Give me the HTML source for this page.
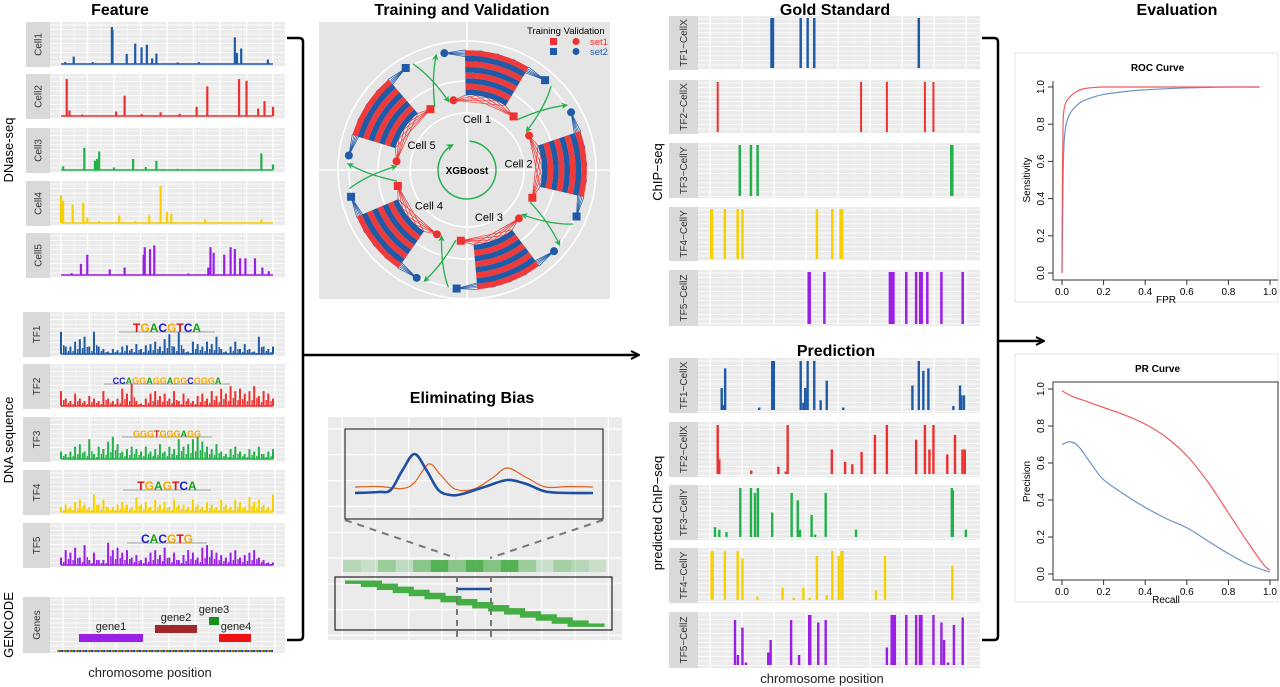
<!DOCTYPE html>
<html><head><meta charset="utf-8"><style>
html,body{margin:0;padding:0;background:#fff;}
svg{display:block;font-family:"Liberation Sans",sans-serif;}
</style></head><body>
<svg id="fig" width="1280" height="687" viewBox="0 0 1280 687" xmlns="http://www.w3.org/2000/svg">
<defs>
<marker id="ah" viewBox="0 0 10 10" refX="8" refY="5" markerWidth="5" markerHeight="5" orient="auto"><path d="M0,0 L10,5 L0,10 L3,5 Z" fill="#22b04b"/></marker>
<marker id="bah" viewBox="0 0 10 10" refX="8" refY="5" markerWidth="4" markerHeight="4" orient="auto"><path d="M1,1 L9,5 L1,9" fill="none" stroke="#000" stroke-width="2"/></marker>
</defs>
</svg>
<script>
// ---------- DATA ----------
const dnaseCell1 = [[.06,.2],[.24,1],[.243,.92],[.31,.27],[.35,.55],[.38,.45],[.405,.52],[.43,.15],[.45,.28],[.82,.72],[.83,.3],[.85,.42],[.976,.12],[.02,.05],[.15,.05],[.55,.04],[.65,.05]];
const dnaseCell2 = [[.027,1],[.04,.15],[.26,.12],[.30,.55],[.47,.1],[.64,.25],[.69,.8],[.84,1],[.875,.95],[.93,.2],[.96,.4],[1,.25],[.1,.04],[.38,.05],[.56,.06]];
const dnaseCell3 = [[.01,.1],[.11,.6],[.16,.25],[.17,.3],[.18,.5],[.25,.07],[.34,.3],[.4,.08],[.45,.25],[.945,.45],[1,.15],[.55,.03]];
const dnaseCell4 = [[0,.75],[.01,.6],[.055,.5],[.105,.55],[.124,.15],[.18,.05],[.275,.2],[.416,.2],[.47,1],[.5,.3],[.52,.25],[.68,.1],[.945,.1],[.35,.05]];
const dnaseCell5 = [[.094,.3],[.124,.55],[.23,.15],[.3,.2],[.39,.55],[.395,.75],[.42,.7],[.44,.8],[.695,.2],[.705,.75],[.72,.6],[.77,.55],[.8,.75],[.82,.7],[.845,.45],[.87,.45],[.915,.45],[.95,.2],[.98,.1],[.05,.05],[.6,.04]];

const tf1Vals = [.9,.3,.3,.5,.6,.7,.3,.9,.3,.2,.1,.2,.15,.3,.35,.2,.4,.2,.35,.4,.5,.3,.6,.8,.3,.9,.2,.1,.5,.4,.3,.5,.4,.7,.2,.1,.3,.5,.2,.4,.2,.1,.7,.3,.2,.3];
const tf2Vals = [.6,.3,.2,.5,.3,.2,.4,.3,.2,.6,.3,.2,.3,.7,.5,.9,.2,.1,.3,.5,.6,.4,.5,.3,.6,.2,.5,.3,.2,.4,.5,.3,.6,.4,.7,.5,.8,.6,.7,.5,.6,.8,.4,.6,.5,.3];
const tf3Vals = [.3,.2,.3,.5,.6,.3,.8,.2,.5,.4,.7,.9,.6,.3,.4,.5,.4,.3,.5,.3,.4,.6,.3,.5,.4,.8,.5,.6,.8,.9,.7,.5,.4,.6,.3,.2,.4,.5,.3,.2,.4,.3,.5,.2,.3,.4];
const tf4Vals = [.2,.3,.2,.4,.5,.3,.2,.7,.3,.5,.2,.2,.3,.4,.3,.2,.6,.3,.4,.2,.5,.3,.4,.2,.5,.3,.3,.2,.5,.3,.2,.4,.3,.2,.5,.3,.2,.5,.4,.2,.6,.4,.5,.3,.2,.7];
const tf5Vals = [.3,.6,.5,.7,.3,.8,.2,.5,.2,.2,.9,.6,.7,.5,.6,.3,.4,.2,.3,.5,.6,.4,.7,.3,.5,.2,.4,.6,.5,.3,.7,.8,.6,.5,.4,.3,.5,.6,.3,.4,.5,.6,.3,.2,.1,.1];

const goldTF1 = [[.249,4],[.356,2.5],[.382,2.5],[.407,2.5],[.80,2.5]];
const goldTF2 = [[.044,2],[.583,2],[.68,2],[.823,2],[.855,2]];
const goldTF3 = [[.127,2.5],[.169,2.5],[.194,2.5],[.924,3.5]];
const goldTF4 = [[.021,3.5],[.071,2.5],[.119,2.5],[.137,2.5],[.417,2.5],[.475,2.5],[.509,4]];
const goldTF5 = [[.388,3.5],[.445,2.5],[.698,6],[.753,2.5],[.79,2.5],[.808,4],[.832,2.5],[.885,2.5],[.965,2.5]];

const predTF1 = [[.059,.45],[.065,.1],[.072,.85],[.2,.05],[.249,1],[.255,1],[.373,.45],[.356,1],[.366,.15],[.382,1],[.407,1],[.431,.2],[.454,.6],[.516,.05],[.776,.5],[.80,1],[.817,.8],[.836,.85],[.93,.08],[.955,.5],[.96,.3],[.97,.3]];
const predTF2 = [[.044,1],[.05,.3],[.17,.07],[.272,.15],[.3,.05],[.307,1],[.473,.5],[.523,.25],[.55,.2],[.585,.45],[.635,.8],[.68,1],[.79,.7],[.823,1],[.84,.5],[.855,1],[.907,.4],[.936,.8],[.964,.5],[.973,.5]];
const predTF3 = [[.034,.2],[.05,.15],[.077,.1],[.129,1],[.169,1],[.184,.9],[.195,1],[.249,.5],[.322,.9],[.345,.75],[.353,.15],[.397,.45],[.41,.05],[.45,.9],[.564,.15],[.924,1],[.928,.95],[.977,.15]];
const predTF4 = [[.021,1],[.025,1],[.071,1],[.119,1],[.137,.85],[.193,.07],[.288,.25],[.33,.05],[.366,.25],[.39,.05],[.417,.9],[.454,.1],[.475,1],[.499,.9],[.509,1],[.513,1],[.639,.2],[.673,.9],[.926,.7]];
const predTF5 = [[.109,.9],[.12,.2],[.137,.75],[.15,.05],[.234,.25],[.243,.5],[.32,.9],[.35,.2],[.388,1],[.392,1],[.422,.85],[.45,.9],[.68,.35],[.698,1],[.703,1],[.71,1],[.753,1],[.79,1],[.804,1],[.81,1],[.855,1],[.885,.85],[.895,.5],[.91,.05],[.932,.8],[.965,.95]];

const rocRedFpr = [0,0.002,0.005,0.01,0.02,0.04,0.07,0.1,0.15,0.2,0.3,0.5,0.95];
const rocRedTpr = [0,0.5,0.8,0.88,0.92,0.95,0.975,0.99,0.997,1,1,1,1];
const rocBlueFpr = [0,0.005,0.01,0.02,0.04,0.07,0.1,0.15,0.2,0.3,0.4,0.6,0.8,0.95];
const rocBlueTpr = [0,0.5,0.7,0.8,0.86,0.9,0.925,0.945,0.96,0.975,0.985,0.995,1,1];
const prRedRecall = [0,0.05,0.1,0.2,0.3,0.4,0.5,0.6,0.7,0.8,0.9,0.97,1];
const prRedPrec = [0.99,0.96,0.94,0.9,0.86,0.81,0.74,0.64,0.5,0.33,0.16,0.05,0.02];
const prBlueRecall = [0,0.02,0.04,0.07,0.1,0.15,0.2,0.3,0.4,0.5,0.6,0.7,0.8,0.9,1];
const prBluePrec = [0.7,0.71,0.715,0.7,0.66,0.58,0.51,0.43,0.36,0.3,0.25,0.18,0.11,0.05,0.01];
const axisTicks = ['0.0','0.2','0.4','0.6','0.8','1.0'];

const biasX = [0,.1,.15,.2,.25,.3,.35,.4,.45,.55,.64,.72,.8,.9,1];
const biasCorrected = [.14,.16,.2,.6,.92,.6,.2,.1,.12,.27,.4,.32,.17,.14,.14];
const biasRawX = [0,.1,.2,.25,.31,.36,.42,.5,.58,.64,.72,.8,.9,1];
const biasRaw = [.26,.27,.23,.35,.72,.5,.22,.22,.45,.64,.45,.26,.27,.26];
const heatAlpha = [.3,.2,.45,.25,.55,.85,.55,.85,.6,.85,.45,.2,.4,.3,.2];

const cellNames = ['Cell 1','Cell 2','Cell 3','Cell 4','Cell 5'];
const cellAngles = [-75,-3,69,141,213];

// ---------- HELPERS ----------
const NS='http://www.w3.org/2000/svg';
const svg=document.getElementById('fig');
function el(tag, attrs, name, parent){
  const e=document.createElementNS(NS,tag);
  for(const k in attrs) e.setAttribute(k,attrs[k]);
  
  
  (parent||svg).appendChild(e); return e;
}
function txt(x,y,s,attrs,name){
  const t=el('text',Object.assign({x:x,y:y,'font-size':11,fill:'#000'},attrs||{}),name);
  t.textContent=s; return t;
}
function panel(x,y,w,h,sw,label,name,vStep,vOff){
  el('rect',{x:x,y:y,width:sw,height:h,fill:'#d9d9d9'},name+'-strip');
  txt(x+sw/2+3.5,y+h/2,label,{'font-size':10,'text-anchor':'middle',fill:'#333',transform:`rotate(-90 ${x+sw/2+3.5} ${y+h/2})`},name+'-label');
  el('rect',{x:x+sw,y:y,width:w-sw,height:h,fill:'#ebebeb'},name+'-bg');
  for(let gy=y+3; gy<y+h; gy+=4.6) el('line',{x1:x+sw,x2:x+w,y1:gy,y2:gy,stroke:'#fff','stroke-width':0.7},name+'-hgrid');
  for(let gx=x+sw+vOff; gx<x+w; gx+=vStep){
    el('line',{x1:gx,x2:gx,y1:y,y2:y+h,stroke:'#fff','stroke-width':1.3},name+'-vgrid');
    if(gx+vStep/2<x+w) el('line',{x1:gx+vStep/2,x2:gx+vStep/2,y1:y,y2:y+h,stroke:'#f7f7f7','stroke-width':0.6},name+'-vgrid-minor');
  }
}
function lin(d0,d1,r0,r1){return v=>r0+(v-d0)/(d1-d0)*(r1-r0);}

// ---------- TITLES ----------
const T={'font-size':16,'font-weight':'bold','text-anchor':'middle'};
txt(120,15,'Feature',T,'feature-title');
txt(462,15,'Training and Validation',T,'training-validation-title');
txt(835,15,'Gold Standard',T,'gold-standard-title');
txt(1177,15,'Evaluation',T,'evaluation-title');
txt(836,356,'Prediction',T,'prediction-title');
txt(472,403,'Eliminating Bias',T,'eliminating-bias-title');

// ---------- FEATURE: DNASE ----------
const dnaseSets=[dnaseCell1,dnaseCell2,dnaseCell3,dnaseCell4,dnaseCell5];
const dnaseCols=['#1f5aa6','#ee3030','#22b04b','#f7d000','#9b1ee6'];
const dnaseY=[22,74,128,181,233];
dnaseSets.forEach((set,i)=>{
  const y0=dnaseY[i], h=45;
  panel(26,y0,259,h,24,'Cell'+(i+1),'dnase-cell'+(i+1),26.5,11);
  const xs=lin(0,1,61,273), base=y0+h-3, ys=lin(0,1,0,h-8);
  el('line',{x1:61,x2:273,y1:base,y2:base,stroke:dnaseCols[i],'stroke-width':1.4},'dnase-baseline');
  set.forEach(p=>{
    el('rect',{x:xs(p[0])-1.1,y:base-ys(p[1]),width:2.2,height:ys(p[1]),fill:dnaseCols[i]},'dnase-peak');
  });
});
txt(13,150,'DNase-seq',{'font-size':13,'text-anchor':'middle',transform:'rotate(-90 13 150)'},'dnase-seq-label');

// ---------- FEATURE: TF ----------
const tfSets=[tf1Vals,tf2Vals,tf3Vals,tf4Vals,tf5Vals];
const tfY=[312,364,417,470,523];
const logos=[['TGACGTCA',11],['CCAGGAGGAGGCGGGA',8],['GGGTGGGAGG',8],['TGAGTCA',11],['CACGTG',11]];
const letterCol={A:'#1aa01a',C:'#1a1acc',G:'#f5a800',T:'#dd1111'};
tfSets.forEach((vals,i)=>{
  const y0=tfY[i], h=45;
  panel(23,y0,262,h,27,'TF'+(i+1),'tf'+(i+1),26.5,13);
  const xs=lin(0,vals.length-1,61,273), base=y0+h-3, ys=lin(0,1,0,h*0.55);
  el('line',{x1:61,x2:273,y1:base,y2:base,stroke:dnaseCols[i],'stroke-width':1.4},'tf-baseline');
  vals.forEach((v,j)=>{
    el('rect',{x:xs(j)-1,y:base-ys(v),width:2,height:ys(v),fill:dnaseCols[i]},'tf-motif-score-bar');
    if(j<vals.length-1) el('rect',{x:xs(j)+2,y:base-ys(v*0.4),width:1.4,height:ys(v*0.4),fill:dnaseCols[i]},'tf-motif-score-bar');
  });
  const lg=logos[i], lw=lg[0].length*lg[1]*0.75;
  el('line',{x1:167-lw/2-15,x2:167+lw/2+15,y1:y0+20,y2:y0+20,stroke:'#888','stroke-width':0.8},'motif-logo-baseline');
  const t=txt(167,y0+20,'',{'font-size':lg[1]+1,'font-weight':'bold','text-anchor':'middle'},'tf'+(i+1)+'-motif-logo');
  [...lg[0]].forEach(c=>{const s=document.createElementNS(NS,'tspan');s.setAttribute('fill',letterCol[c]);s.textContent=c;t.appendChild(s);});
});
txt(13,440,'DNA sequence',{'font-size':13,'text-anchor':'middle',transform:'rotate(-90 13 440)'},'dna-sequence-label');

// ---------- GENES ----------
panel(23,597,262,56,27,'Genes','genes',26.5,13);
el('rect',{x:79,y:634,width:64,height:8,fill:'#9b1ee6'},'gene1-bar');
el('rect',{x:155,y:625,width:42,height:8,fill:'#a02828'},'gene2-bar');
el('rect',{x:209,y:617,width:10,height:8,fill:'#169016'},'gene3-bar');
el('rect',{x:219,y:634,width:32,height:8,fill:'#ee1111'},'gene4-bar');
txt(111,630,'gene1',{'font-size':11,'text-anchor':'middle',fill:'#222'},'gene1-label');
txt(176,621,'gene2',{'font-size':11,'text-anchor':'middle',fill:'#222'},'gene2-label');
txt(214,613,'gene3',{'font-size':11,'text-anchor':'middle',fill:'#222'},'gene3-label');
txt(236,630,'gene4',{'font-size':11,'text-anchor':'middle',fill:'#222'},'gene4-label');
['#c8a000','#cc2222','#2a9a2a','#2a2acc'].forEach((c,k)=>{
  el('line',{x1:57+k*1.5,x2:273,y1:651,y2:651,stroke:c,'stroke-width':2,'stroke-dasharray':'1.5 4.5'},'sequence-band');
});
txt(13,625,'GENCODE',{'font-size':13,'text-anchor':'middle',transform:'rotate(-90 13 625)'},'gencode-label');
txt(150,677,'chromosome position',{'font-size':13,'text-anchor':'middle',fill:'#222'},'feature-x-axis-title');

// ---------- BRACKETS & ARROWS ----------
el('path',{d:'M287,38 L299,38 Q303,38 303,42 L303,636 Q303,640 299,640 L287,640',fill:'none',stroke:'#000','stroke-width':2.5},'feature-bracket');
el('line',{x1:303,y1:355,x2:638,y2:355,stroke:'#000','stroke-width':2.5,'marker-end':'url(#bah)'},'feature-to-prediction-arrow');
el('path',{d:'M982,38 L994,38 Q998,38 998,42 L998,636 Q998,640 994,640 L982,640',fill:'none',stroke:'#000','stroke-width':2.5},'chipseq-bracket');
el('line',{x1:998,y1:341,x2:1043,y2:341,stroke:'#000','stroke-width':2.5,'marker-end':'url(#bah)'},'chipseq-to-evaluation-arrow');

// ---------- GOLD STANDARD ----------
const goldSets=[goldTF1,goldTF2,goldTF3,goldTF4,goldTF5];
const trackLabels=['TF1\u2212CellX','TF2\u2212CellX','TF3\u2212CellY','TF4\u2212CellY','TF5\u2212CellZ'];
const goldY=[[16,54],[80,54],[143,55],[207,54],[270,56]];
goldSets.forEach((set,i)=>{
  const y0=goldY[i][0], h=goldY[i][1];
  panel(669,y0,311,h,29,trackLabels[i],'gold-'+(i+1),32,12);
  const xs=lin(0,1,706,972);
  set.forEach(p=>{
    el('rect',{x:xs(p[0])-p[1]/2,y:y0+2,width:p[1],height:h-4,fill:dnaseCols[i]},'gold-peak');
  });
});
txt(662,172,'ChIP\u2212seq',{'font-size':13,'text-anchor':'middle',transform:'rotate(-90 662 172)'},'chipseq-y-label');

// ---------- PREDICTION ----------
const predSets=[predTF1,predTF2,predTF3,predTF4,predTF5];
const predY=[[358,55],[422,55],[485,55],[548,55],[612,56]];
predSets.forEach((set,i)=>{
  const y0=predY[i][0], h=predY[i][1];
  panel(669,y0,311,h,29,trackLabels[i],'pred-'+(i+1),32,12);
  const xs=lin(0,1,706,972), base=y0+h-3, ys=lin(0,1,0,h-6);
  set.forEach(p=>{
    el('rect',{x:xs(p[0])-1.2,y:base-ys(p[1]),width:2.4,height:ys(p[1]),fill:dnaseCols[i]},'predicted-peak');
  });
});
txt(662,513,'predicted ChIP\u2212seq',{'font-size':13,'text-anchor':'middle',transform:'rotate(-90 662 513)'},'predicted-chipseq-y-label');
txt(822,683,'chromosome position',{'font-size':13,'text-anchor':'middle',fill:'#222'},'prediction-x-axis-title');

// ---------- ROC / PR ----------
function curvePlot(opts){
  const {x0,x1,y0,y1,top,bottom,left,right,title,xl,yl,series,box,nm}=opts;
  const xs=lin(0,1,x0,x1), ys=lin(0,1,y0,y1);
  el('rect',{x:left-38,y:top-28,width:right-left+38,height:bottom-top+50,fill:'none',stroke:'#e4e4e4','stroke-width':1},nm+'-frame');
  if(box) el('rect',{x:left,y:top,width:right-left,height:bottom-top,fill:'none',stroke:'#333','stroke-width':1},nm+'-box');
  else { el('line',{x1:left,x2:left,y1:top,y2:bottom,stroke:'#333'},nm+'-y-axis');
         el('line',{x1:left,x2:right,y1:bottom,y2:bottom,stroke:'#333'},nm+'-x-axis'); }
  txt((left+right)/2-8,top-10,title,{'font-size':10,'font-weight':'bold','text-anchor':'middle'},nm+'-title');
  axisTicks.forEach((lab,k)=>{
    const v=k/5, X=xs(v), Y=ys(v);
    el('line',{x1:X,x2:X,y1:bottom,y2:bottom+5,stroke:'#333'},nm+'-x-tick');
    txt(X,bottom+15,lab,{'font-size':10,'text-anchor':'middle'},nm+'-x-tick-label');
    el('line',{x1:left-5,x2:left,y1:Y,y2:Y,stroke:'#333'},nm+'-y-tick');
    txt(left-9,Y,lab,{'font-size':10,'text-anchor':'middle',transform:`rotate(-90 ${left-9} ${Y})`},nm+'-y-tick-label');
  });
  txt((x0+x1)/2,bottom+23,xl,{'font-size':10,'text-anchor':'middle'},nm+'-x-axis-title');
  txt(left-23,(y0+y1)/2,yl,{'font-size':10,'text-anchor':'middle',transform:`rotate(-90 ${left-23} ${(y0+y1)/2})`},nm+'-y-axis-title');
  series.forEach(s=>{
    const pts=s.x.map((v,k)=>[xs(v),ys(s.y[k])]);
    el('path',{d:smooth(pts),fill:'none',stroke:s.c,'stroke-width':1.2},nm+'-'+s.n+'-line');
  });
}
function smooth(p){
  let d='M'+p[0][0]+','+p[0][1];
  for(let i=0;i<p.length-1;i++){
    const a=p[i-1]||p[i], b=p[i], c=p[i+1], e=p[i+2]||c;
    const c1=[b[0]+(c[0]-a[0])/6,b[1]+(c[1]-a[1])/6], c2=[c[0]-(e[0]-b[0])/6,c[1]-(e[1]-b[1])/6];
    d+=` C${c1[0]},${c1[1]} ${c2[0]},${c2[1]} ${c[0]},${c[1]}`;
  }
  return d;
}
curvePlot({x0:1062,x1:1270,y0:273,y1:87,top:81,bottom:280,left:1053,right:1278,title:'ROC Curve',xl:'FPR',yl:'Sensitivity',box:false,nm:'roc',
  series:[{x:rocBlueFpr,y:rocBlueTpr,c:'#6b93c8',n:'model2'},{x:rocRedFpr,y:rocRedTpr,c:'#f0595f',n:'model1'}]});
curvePlot({x0:1062,x1:1270,y0:574,y1:389,top:382,bottom:580,left:1053,right:1278,title:'PR Curve',xl:'Recall',yl:'Precision',box:true,nm:'pr',
  series:[{x:prBlueRecall,y:prBluePrec,c:'#6b93c8',n:'model2'},{x:prRedRecall,y:prRedPrec,c:'#f0595f',n:'model1'}]});

// ---------- TRAINING / VALIDATION ----------
const cx=467, cy=170;
el('rect',{x:319,y:22,width:291,height:277,fill:'#e5e5e5'},'training-panel-bg');
el('line',{x1:319,x2:610,y1:cy,y2:cy,stroke:'#fff','stroke-width':1.5},'training-grid-h');
el('line',{x1:cx,x2:cx,y1:22,y2:299,stroke:'#fff','stroke-width':1.5},'training-grid-v');
[129,118,89,57].forEach(r=>el('circle',{cx:cx,cy:cy,r:r,fill:'none',stroke:'#fff','stroke-width':1.6},'training-grid-ring'));
const pol=(a,r)=>[cx+r*Math.cos(a*Math.PI/180), cy+r*Math.sin(a*Math.PI/180)];
function sector(a0,a1,r0,r1){
  const p1=pol(a0,r1),p2=pol(a1,r1),p3=pol(a1,r0),p4=pol(a0,r0);
  return `M${p1} A${r1},${r1} 0 0 1 ${p2} L${p3} A${r0},${r0} 0 0 0 ${p4} Z`;
}
const RN=71, RB=119;
cellAngles.forEach((th,i)=>{
  const sa=th-16, sb=th+16;
  const rc=pol(th-26,RN), rs=pol(th+26,RN), bc=pol(th-26,RB), bs=pol(th+26,RB);
  [rc,rs].forEach(n=>{for(let k=0;k<5;k++){const q=pol(sa+k*8,75);el('line',{x1:n[0],y1:n[1],x2:q[0],y2:q[1],stroke:'#ee3030','stroke-width':0.7},'training-edge');}});
  [bc,bs].forEach(n=>{for(let k=0;k<5;k++){const q=pol(sa+k*8,120);el('line',{x1:n[0],y1:n[1],x2:q[0],y2:q[1],stroke:'#1f5aa6','stroke-width':0.7},'validation-edge');}});
  for(let b=0;b<8;b++){
    const r0=75+b*5.6;
    el('path',{d:sector(sa,sb,r0,r0+5.6),fill:b%2?'#ee3a3a':'#1f5aa6'},'cell-block-band');
  }
  el('circle',{cx:rc[0],cy:rc[1],r:4,fill:'#ee3030'},'set1-validation-node');
  el('rect',{x:rs[0]-4,y:rs[1]-4,width:8,height:8,fill:'#ee3030'},'set1-training-node');
  el('circle',{cx:bc[0],cy:bc[1],r:4,fill:'#1f5aa6'},'set2-validation-node');
  el('rect',{x:bs[0]-4,y:bs[1]-4,width:8,height:8,fill:'#1f5aa6'},'set2-training-node');
  const lp=pol(th-4,52);
  txt(lp[0],lp[1]+4,cellNames[i],{'font-size':11,'text-anchor':'middle'},'cell'+(i+1)+'-label');
  const nth=th+72;
  const from1=pol(th+30,RN), to1=pol(nth-30,RB), mid1=pol(th+36,RN+28);
  el('path',{d:`M${from1} Q${mid1} ${to1}`,fill:'none',stroke:'#22b04b','stroke-width':1.3,'marker-end':'url(#ah)'},'transfer-arrow');
  const from2=pol(th+30,RB), to2=pol(nth-30,RN), mid2=pol(nth-36,RB-18);
  el('path',{d:`M${from2} Q${mid2} ${to2}`,fill:'none',stroke:'#22b04b','stroke-width':1.3,'marker-end':'url(#ah)'},'transfer-arrow');
});
el('path',{d:`M${pol(-85,29)} A29,29 0 1 1 ${pol(-120,29)}`,fill:'none',stroke:'#22b04b','stroke-width':1.5,'marker-end':'url(#ah)'},'xgboost-cycle-arrow');
txt(cx,cy+4,'XGBoost',{'font-size':10,'font-weight':'bold','text-anchor':'middle'},'xgboost-label');
txt(527,34,'Training Validation',{'font-size':9.5},'legend-title');
el('rect',{x:550,y:38,width:7,height:7,fill:'#ee3030'},'legend-set1-square');
el('circle',{cx:576,cy:41.5,r:3.5,fill:'#ee3030'},'legend-set1-circle');
txt(590,45,'set1',{'font-size':9.5,fill:'#ee3030'},'legend-set1-label');
el('rect',{x:550,y:48,width:7,height:7,fill:'#1f5aa6'},'legend-set2-square');
el('circle',{cx:576,cy:51.5,r:3.5,fill:'#1f5aa6'},'legend-set2-circle');
txt(590,55,'set2',{'font-size':9.5,fill:'#1f5aa6'},'legend-set2-label');

// ---------- ELIMINATING BIAS ----------
el('rect',{x:328,y:417,width:294,height:223,fill:'#ebebeb'},'bias-panel-bg');
for(let gx=342;gx<622;gx+=33.3) el('line',{x1:gx,x2:gx,y1:417,y2:640,stroke:'#fff','stroke-width':1.2},'bias-vgrid');
for(let gy=429;gy<640;gy+=25.8) el('line',{x1:328,x2:622,y1:gy,y2:gy,stroke:'#fff','stroke-width':1.2},'bias-hgrid');
el('rect',{x:345,y:429,width:258,height:90,fill:'none',stroke:'#333','stroke-width':1.2},'bias-zoom-box');
const bxs=lin(0,1,355,593), bys=lin(0,1,500,450);
el('path',{d:smooth(biasRawX.map((v,k)=>[bxs(v),bys(biasRaw[k])])),fill:'none',stroke:'#e0601a','stroke-width':1.2},'raw-signal-line');
el('path',{d:smooth(biasX.map((v,k)=>[bxs(v),bys(biasCorrected[k])])),fill:'none',stroke:'#1f4fa0','stroke-width':2.6},'corrected-signal-line');
el('line',{x1:345,y1:520,x2:456,y2:558,stroke:'#777','stroke-width':2,'stroke-dasharray':'7 6'},'zoom-guide-left');
el('line',{x1:603,y1:520,x2:490,y2:558,stroke:'#777','stroke-width':2,'stroke-dasharray':'7 6'},'zoom-guide-right');
heatAlpha.forEach((a,k)=>{
  el('rect',{x:343+k*17.53,y:560,width:17.6,height:12,fill:'#3aa83a','fill-opacity':a},'coverage-heat-cell');
});
el('rect',{x:335,y:577,width:277,height:53,fill:'none',stroke:'#222','stroke-width':1.2},'reads-box');
for(let k=0;k<15;k++) el('rect',{x:345+k*15.9,y:580.5+k*3.07,width:37,height:3.4,fill:'#44ad44'},'read-segment');
el('line',{x1:456,x2:492,y1:589,y2:589,stroke:'#1f4fa0','stroke-width':2.5},'selected-window');
el('line',{x1:457,x2:457,y1:576,y2:640,stroke:'#777','stroke-width':2,'stroke-dasharray':'6 5'},'window-left-edge');
el('line',{x1:491,x2:491,y1:576,y2:640,stroke:'#777','stroke-width':2,'stroke-dasharray':'6 5'},'window-right-edge');
</script>
</body></html>
